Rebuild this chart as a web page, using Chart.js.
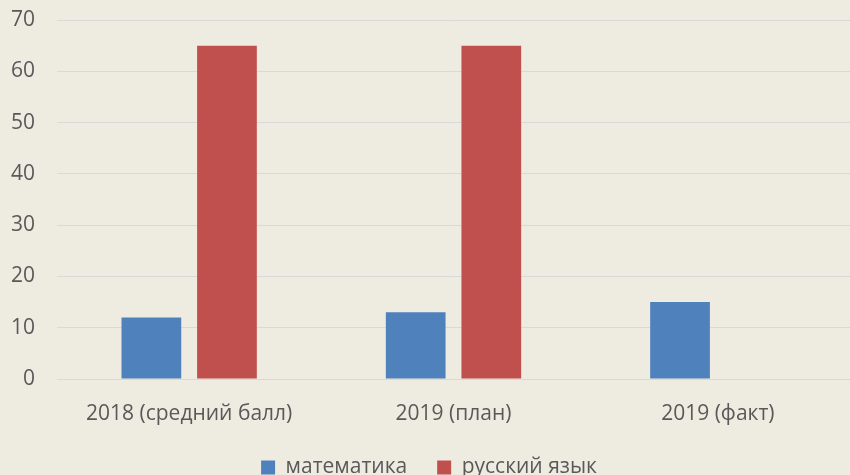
<!DOCTYPE html>
<html>
<head>
<meta charset="utf-8">
<script src="https://cdn.jsdelivr.net/npm/chart.js@4"></script>
<style>
  html, body { margin: 0; padding: 0; background: #EEECE1; }
  #wrap { width: 850px; height: 475px; }
</style>
</head>
<body>
<div id="wrap"><canvas id="myChart"></canvas></div>
<script>
const categories = ['2018 (средний балл)', '2019 (план)', '2019 (факт)'];
const mathValues = [12, 13, 15];
const russianValues = [65, 65, null];
const seriesNames = ['математика', 'русский язык'];

Chart.defaults.font.family = '"Open Sans", "Noto Sans", sans-serif';
Chart.defaults.color = '#595959';

const ctx = document.getElementById('myChart');
const myChart = new Chart(ctx, {
  type: 'bar',
  data: {
    labels: categories,
    datasets: [{
      label: seriesNames[0],
      data: mathValues,
      backgroundColor: '#4F81BD'
    }, {
      label: seriesNames[1],
      data: russianValues,
      backgroundColor: '#C0504D'
    }]
  },
  options: {
    responsive: true,
    maintainAspectRatio: false,
    animation: false,
    layout: { autoPadding: false, padding: { top: 20, right: 0, left: 8, bottom: -13 } },
    datasets: {
      bar: { categoryPercentage: 0.572, barPercentage: 0.79 }
    },
    plugins: {
      legend: {
        position: 'bottom',
        labels: {
          boxWidth: 14,
          boxHeight: 14,
          padding: 30,
          font: { size: 21 }
        }
      },
      tooltip: { enabled: false }
    },
    scales: {
      x: {
        grid: { display: false },
        border: { display: false },
        afterFit: (scale) => { scale.height = 48; },
        ticks: { font: { size: 21 }, padding: 14 }
      },
      y: {
        min: 0,
        max: 70,
        afterFit: (scale) => {
          scale.width = 49;
          scale.paddingTop = 0;
          scale.paddingBottom = 0;
        },
        ticks: { stepSize: 10, font: { size: 21 }, padding: 22 },
        grid: { color: '#D9D9D9', lineWidth: 1, drawTicks: false },
        border: { display: false }
      }
    }
  }
});
</script>
</body>
</html>
